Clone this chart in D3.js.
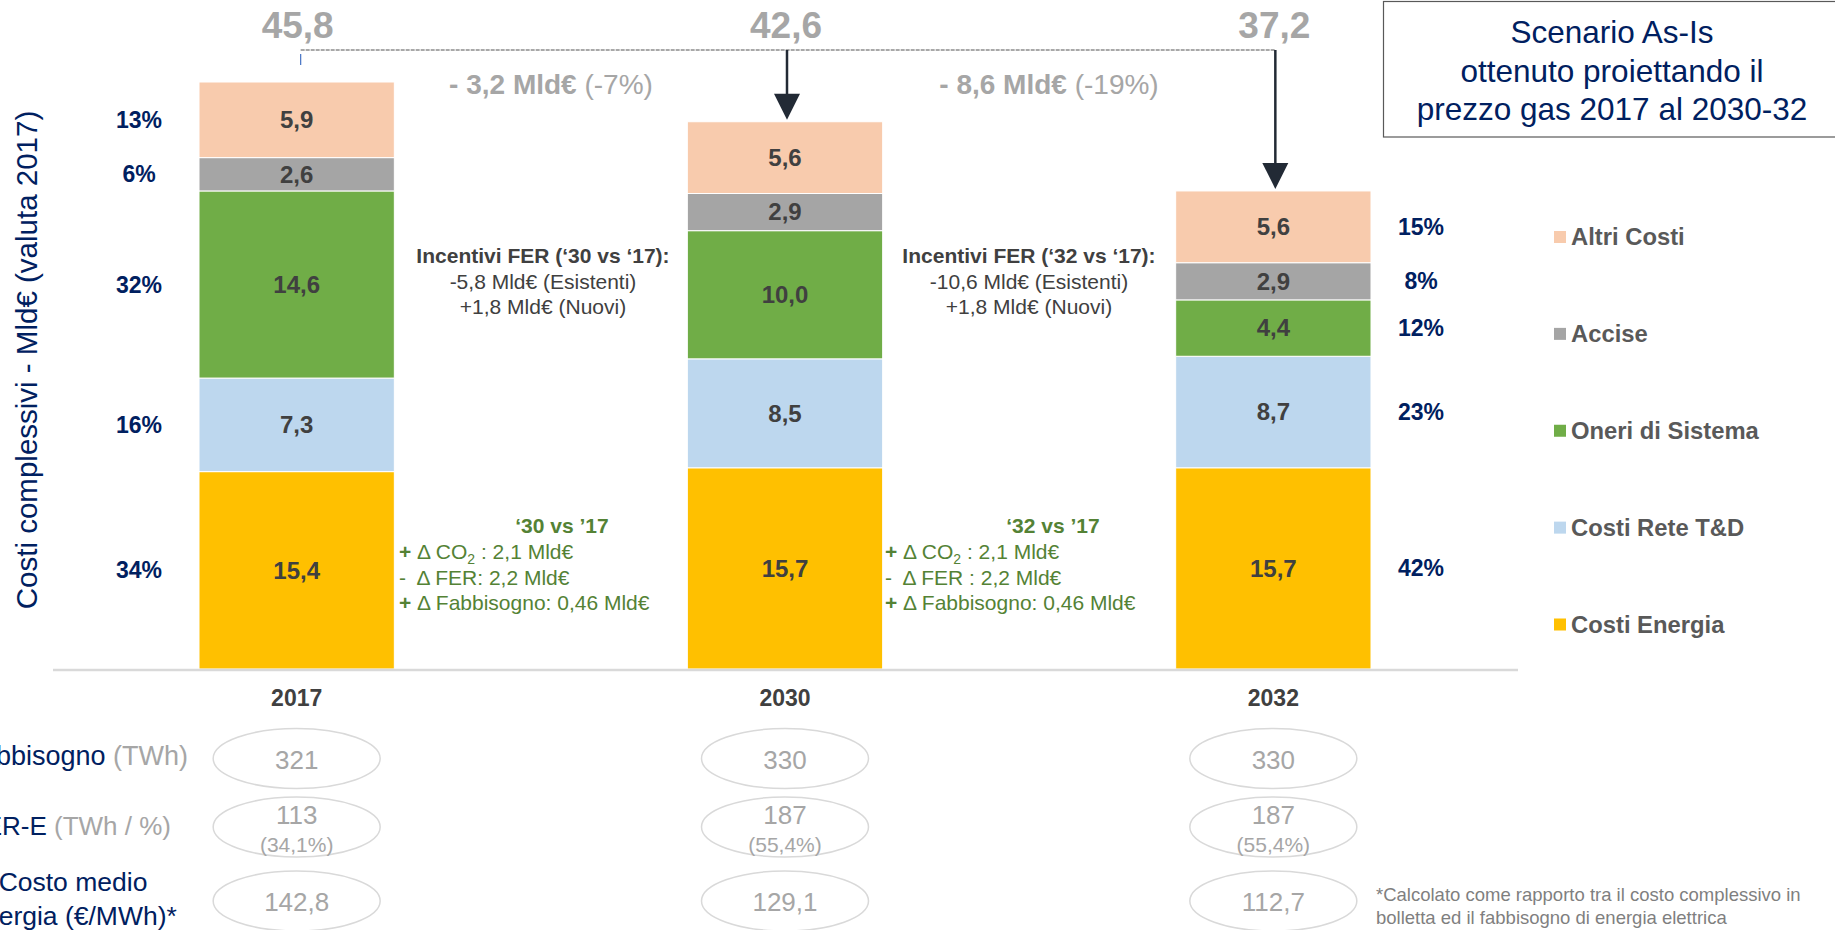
<!DOCTYPE html>
<html>
<head>
<meta charset="utf-8">
<script src="https://cdnjs.cloudflare.com/ajax/libs/d3/7.8.5/d3.min.js"></script>
<style>
  body { margin: 0; background: #fff; }
  svg { display: block; font-family: "Liberation Sans", Arial, sans-serif; }
  text { white-space: pre; }
</style>
</head>
<body>
<svg id="chart"></svg>
<script>
var width = 1835, height = 930;

// dati (Mld€)
var years = ["2017", "2030", "2032"];
var categories = ["Costi Energia", "Costi Rete T&D", "Oneri di Sistema", "Accise", "Altri Costi"];
var costiEnergia = [15.4, 15.7, 15.7];
var costiRete = [7.3, 8.5, 8.7];
var oneriSistema = [14.6, 10.0, 4.4];
var accise = [2.6, 2.9, 2.9];
var altriCosti = [5.9, 5.6, 5.6];
var totali = [45.8, 42.6, 37.2];
var quote2017 = [34, 16, 32, 6, 13];
var quote2032 = [42, 23, 12, 8, 15];
var deltaMld = [-3.2, -8.6];
var deltaPerc = [-7, -19];
var fabbisogno = [321, 330, 330];
var ferE = [113, 187, 187];
var ferQuota = [34.1, 55.4, 55.4];
var costoMedio = [142.8, 129.1, 112.7];
var colori = ["#FFC000", "#BDD7EE", "#70AD47", "#A5A5A5", "#F8CBAD"];

var it = d3.formatLocale({decimal: ",", thousands: ".", grouping: [3], currency: ["", "€"]});
var f1 = it.format(".1f");

var navy = "#002060", grigio = "#A6A6A6", scuro = "#404040", verde = "#548235";

var rows = years.map(function(y, i) {
  return {
    year: y,
    "Costi Energia": costiEnergia[i],
    "Costi Rete T&D": costiRete[i],
    "Oneri di Sistema": oneriSistema[i],
    "Accise": accise[i],
    "Altri Costi": altriCosti[i]
  };
});
var series = d3.stack().keys(categories)(rows);

var svg = d3.select("#chart").attr("width", width).attr("height", height);

var x = d3.scaleBand().domain(years).range([199, 1371]).paddingInner(0.6);
var y = d3.scaleLinear().domain([0, 45.8]).range([669, 82]);
var color = d3.scaleOrdinal().domain(categories).range(colori);
var bw = x.bandwidth();
function cx(yr) { return x(yr) + bw / 2; }

/** barre **/
var layer = svg.append("g").selectAll("g")
  .data(series).enter().append("g")
    .attr("fill", function(d) { return color(d.key); });

layer.selectAll("rect")
  .data(function(d) { return d; })
  .enter().append("rect")
    .attr("x", function(d) { return x(d.data.year); })
    .attr("y", function(d) { return y(d[1]); })
    .attr("width", bw)
    .attr("height", function(d) { return y(d[0]) - y(d[1]); })
    .attr("stroke", "#fff")
    .attr("stroke-width", 1);

layer.selectAll("text")
  .data(function(d) { return d; })
  .enter().append("text")
    .attr("x", function(d) { return cx(d.data.year); })
    .attr("y", function(d) { return (y(d[0]) + y(d[1])) / 2; })
    .attr("dy", "0.35em")
    .attr("text-anchor", "middle")
    .attr("fill", scuro)
    .style("font-size", "24px")
    .style("font-weight", "bold")
    .text(function(d) { return f1(d[1] - d[0]); });

/** percentuali **/
series.forEach(function(s, i) {
  svg.append("text")
    .attr("x", 139).attr("y", (y(s[0][0]) + y(s[0][1])) / 2).attr("dy", "0.35em")
    .attr("text-anchor", "middle").attr("fill", navy)
    .style("font-size", "23px").style("font-weight", "bold")
    .text(quote2017[i] + "%");
  svg.append("text")
    .attr("x", 1421).attr("y", (y(s[2][0]) + y(s[2][1])) / 2).attr("dy", "0.35em")
    .attr("text-anchor", "middle").attr("fill", navy)
    .style("font-size", "23px").style("font-weight", "bold")
    .text(quote2032[i] + "%");
});

/** asse x **/
svg.append("line")
  .attr("x1", 53).attr("x2", 1518).attr("y1", 670).attr("y2", 670)
  .attr("stroke", "#D9D9D9").attr("stroke-width", 2.5);

var xAxis = d3.axisBottom(x).tickSize(0).tickPadding(21);
var gx = svg.append("g").attr("transform", "translate(0,669)").call(xAxis);
gx.select(".domain").remove();
gx.selectAll("text")
  .attr("fill", scuro)
  .style("font-size", "23px")
  .style("font-weight", "bold")
  .style("font-family", "'Liberation Sans', Arial, sans-serif");

/** asse y **/
svg.append("text")
  .attr("transform", "translate(37,360) rotate(-90)")
  .attr("text-anchor", "middle").attr("fill", navy)
  .style("font-size", "29.5px")
  .text("Costi complessivi - Mld€ (valuta 2017)");

/** totali e frecce **/
svg.selectAll(".tot")
  .data(years).enter().append("text")
    .attr("class", "tot")
    .attr("x", function(d) { return cx(d) + 1; })
    .attr("y", 38)
    .attr("text-anchor", "middle").attr("fill", grigio)
    .style("font-size", "37px").style("font-weight", "bold")
    .text(function(d, i) { return f1(totali[i]); });

svg.append("line")
  .attr("x1", cx(years[0]) + 4).attr("x2", cx(years[2]) + 2)
  .attr("y1", 50).attr("y2", 50)
  .attr("stroke", "#8C8C8C").attr("stroke-width", 1.5)
  .attr("stroke-dasharray", "4,1");

svg.append("line")
  .attr("x1", cx(years[0]) + 4).attr("x2", cx(years[0]) + 4)
  .attr("y1", 54).attr("y2", 65)
  .attr("stroke", "#4472C4").attr("stroke-width", 1.2);

[1, 2].forEach(function(i) {
  var xc = cx(years[i]) + 2;
  var top = d3.sum(series, function(s) { return s[i][1] - s[i][0]; });
  var tip = y(top) - 2;
  svg.append("line")
    .attr("x1", xc).attr("x2", xc).attr("y1", 50).attr("y2", tip - 24)
    .attr("stroke", "#222A35").attr("stroke-width", 2.5);
  svg.append("path")
    .attr("d", "M" + (xc - 13) + "," + (tip - 26) + "L" + (xc + 13) + "," + (tip - 26) + "L" + xc + "," + tip + "Z")
    .attr("fill", "#222A35");
});

var deltaX = [551, 1049];
deltaMld.forEach(function(d, i) {
  var t = svg.append("text")
    .attr("x", deltaX[i]).attr("y", 94)
    .attr("text-anchor", "middle").attr("fill", grigio)
    .style("font-size", "28px");
  t.append("tspan").style("font-weight", "bold").text("- " + f1(Math.abs(d)) + " Mld€");
  t.append("tspan").text(" (" + deltaPerc[i] + "%)");
});

/** box scenario **/
svg.append("rect")
  .attr("x", 1383.5).attr("y", 1.5).attr("width", 470).attr("height", 135.5)
  .attr("fill", "none").attr("stroke", "#595959").attr("stroke-width", 1.2);
["Scenario As-Is", "ottenuto proiettando il", "prezzo gas 2017 al 2030-32"].forEach(function(l, i) {
  svg.append("text")
    .attr("x", 1612).attr("y", 43 + i * 38.5)
    .attr("text-anchor", "middle").attr("fill", navy)
    .style("font-size", "31.5px")
    .text(l);
});

/** legenda **/
var ly = d3.scalePoint().domain(categories.slice().reverse()).range([237, 624.5]);
var leg = svg.append("g").selectAll("g")
  .data(categories).enter().append("g")
    .attr("transform", function(d) { return "translate(1554," + ly(d) + ")"; });
leg.append("rect")
  .attr("x", 0).attr("y", -6).attr("width", 12).attr("height", 12)
  .attr("fill", function(d) { return color(d); });
leg.append("text")
  .attr("x", 17).attr("dy", "0.35em")
  .attr("fill", "#595959")
  .style("font-size", "23.8px").style("font-weight", "bold")
  .text(function(d) { return d; });

/** note incentivi **/
var incentivi = [
  {x: 543, lines: ["Incentivi FER (‘30 vs ‘17):", "-5,8 Mld€ (Esistenti)", "+1,8 Mld€ (Nuovi)"]},
  {x: 1029, lines: ["Incentivi FER (‘32 vs ‘17):", "-10,6 Mld€ (Esistenti)", "+1,8 Mld€ (Nuovi)"]}
];
incentivi.forEach(function(n) {
  n.lines.forEach(function(l, j) {
    svg.append("text")
      .attr("x", n.x).attr("y", 263 + j * 25.5)
      .attr("text-anchor", "middle").attr("fill", scuro)
      .style("font-size", "21px")
      .style("font-weight", j == 0 ? "bold" : "normal")
      .text(l);
  });
});

/** note verdi **/
var note = [
  {x: 399, hx: 562, head: "‘30 vs ’17", fer: "-  Δ FER: 2,2 Mld€"},
  {x: 885, hx: 1053, head: "‘32 vs ’17", fer: "-  Δ FER : 2,2 Mld€"}
];
note.forEach(function(n) {
  svg.append("text")
    .attr("x", n.hx).attr("y", 533)
    .attr("text-anchor", "middle").attr("fill", verde)
    .style("font-size", "21px").style("font-weight", "bold")
    .text(n.head);
  var t1 = svg.append("text").attr("x", n.x).attr("y", 559).attr("fill", verde).style("font-size", "21px");
  t1.append("tspan").style("font-weight", "bold").text("+ ");
  t1.append("tspan").text("Δ CO");
  t1.append("tspan").attr("dy", 5).style("font-size", "14px").text("2");
  t1.append("tspan").attr("dy", -5).text(" : 2,1 Mld€");
  svg.append("text").attr("x", n.x).attr("y", 585).attr("fill", verde).style("font-size", "21px")
    .text(n.fer);
  var t3 = svg.append("text").attr("x", n.x).attr("y", 610).attr("fill", verde).style("font-size", "21px");
  t3.append("tspan").style("font-weight", "bold").text("+ ");
  t3.append("tspan").text("Δ Fabbisogno: 0,46 Mld€");
});

/** tabella in basso **/
var rowY = [758.5, 827, 901];
years.forEach(function(yr, i) {
  rowY.forEach(function(ry) {
    svg.append("ellipse")
      .attr("cx", cx(yr)).attr("cy", ry).attr("rx", 83.5).attr("ry", 30)
      .attr("fill", "none").attr("stroke", "#D9D9D9").attr("stroke-width", 1.5);
  });
  svg.append("text")
    .attr("x", cx(yr)).attr("y", 769)
    .attr("text-anchor", "middle").attr("fill", grigio).style("font-size", "26px")
    .text(fabbisogno[i]);
  svg.append("text")
    .attr("x", cx(yr)).attr("y", 824)
    .attr("text-anchor", "middle").attr("fill", grigio).style("font-size", "26px")
    .text(ferE[i]);
  svg.append("text")
    .attr("x", cx(yr)).attr("y", 852)
    .attr("text-anchor", "middle").attr("fill", grigio).style("font-size", "21px")
    .text("(" + f1(ferQuota[i]) + "%)");
  svg.append("text")
    .attr("x", cx(yr)).attr("y", 911)
    .attr("text-anchor", "middle").attr("fill", grigio).style("font-size", "26px")
    .text(f1(costoMedio[i]));
});

var r1 = svg.append("text").attr("x", 188).attr("y", 765).attr("text-anchor", "end").style("font-size", "27px");
r1.append("tspan").attr("fill", navy).text("Fabbisogno");
r1.append("tspan").attr("fill", grigio).text(" (TWh)");
var r2 = svg.append("text").attr("x", 171).attr("y", 835).attr("text-anchor", "end").style("font-size", "26px");
r2.append("tspan").attr("fill", navy).text("FER-E");
r2.append("tspan").attr("fill", grigio).text(" (TWh / %)");
svg.append("text").attr("x", 73).attr("y", 891).attr("text-anchor", "middle")
  .attr("fill", navy).style("font-size", "26.5px").text("Costo medio");
svg.append("text").attr("x", 73).attr("y", 925).attr("text-anchor", "middle")
  .attr("fill", navy).style("font-size", "26.5px").text("energia (€/MWh)*");

svg.append("text").attr("x", 1376).attr("y", 901).attr("fill", "#7F7F7F").style("font-size", "18.5px")
  .text("*Calcolato come rapporto tra il costo complessivo in");
svg.append("text").attr("x", 1376).attr("y", 924).attr("fill", "#7F7F7F").style("font-size", "18.5px")
  .text("bolletta ed il fabbisogno di energia elettrica");
</script>
</body>
</html>
